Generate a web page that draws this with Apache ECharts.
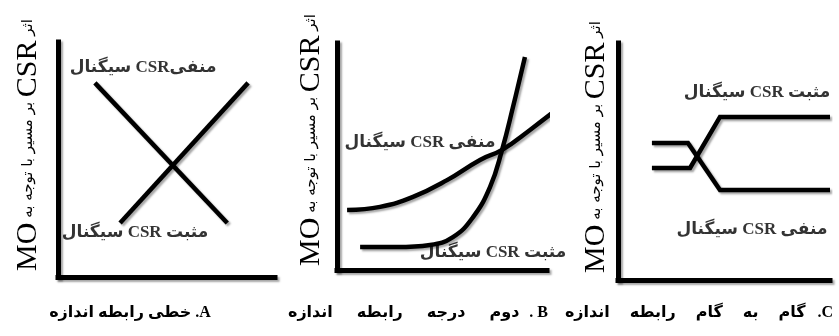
<!DOCTYPE html>
<html>
<head>
<meta charset="utf-8">
<script src="https://cdn.jsdelivr.net/npm/echarts@6/dist/echarts.min.js"></script>
<style>
html,body{margin:0;padding:0;background:#fff;}
#chart{width:839px;height:336px;}
</style>
</head>
<body>
<div id="chart"></div>
<script>
// ---- Data (axis units 0..100 in each panel) ----
const lineA_negative = [[17.0, 82.6], [78.0, 23.0]];
const lineA_positive = [[28.6, 23.0], [87.6, 82.6]];

const curveB_negative = [[4.8, 26.4], [20.5, 27.8], [36.2, 32.2], [52.4, 39.6], [68.1, 48.5], [78.6, 52.9], [91.9, 61.7], [108.6, 73.6]];
const curveB_positive = [[11.0, 10.1], [28.6, 10.1], [44.3, 11.0], [55.2, 14.5], [64.8, 23.3], [72.9, 36.6], [78.6, 52.9], [83.8, 71.8], [89.5, 93.8]];

const stepC_toNegative = [[16.0, 57.8], [33.0, 57.8], [48.1, 38.0], [100, 38.0]];
const stepC_toPositive = [[16.0, 47.3], [34.0, 47.3], [48.1, 68.8], [100, 68.8]];

// ---- Texts (words listed in visual left-to-right order) ----
const labelNegA = ['سیگنال', ' ', 'CSR', 'منفی'];
const labelNeg = ['سیگنال', ' ', 'CSR', ' ', 'منفی'];
const labelPos = ['سیگنال', ' ', 'CSR', ' ', 'مثبت'];
const titleA = ['اندازه', ' ', 'رابطه', ' ', 'خطی', ' ', '.', 'A'];
const titleB = ['اندازه', ' ', 'رابطه', ' ', 'درجه', ' ', 'دوم', '.', ' ', 'B'];
const titleC = ['اندازه', ' ', 'رابطه', ' ', 'گام', ' ', 'به', ' ', 'گام', ' ', '.', 'C'];
const yLabelParts = ['MO', 'بر مسیر با توجه به', 'CSR', 'اثر'];

// label anchors (axis units) per panel
const labelsA = [{name: 'neg', words: labelNegA, value: [39.2, 88.9]}, {name: 'pos', words: labelPos, value: [35.5, 18.7]}];
const labelsB = [{name: 'neg', words: labelNeg, value: [39.5, 55.9]}, {name: 'pos', words: labelPos, value: [74.3, 7.5]}];
const labelsC = [{name: 'pos', words: labelPos, value: [65.6, 78.9]}, {name: 'neg', words: labelNeg, value: [63.2, 21.1]}];

// build rich-text string: every word its own token so order is fixed left-to-right
function tokens(words, style) {
  return words.map(w => w === ' ' ? '{' + style + 'sp| }' : '{' + style + '|' + w + '}').join('');
}

// ---- Layout ----
const grids = [
  {left: 58, top: 42, width: 217, height: 235},
  {left: 337, top: 43, width: 210, height: 227},
  {left: 618, top: 43, width: 212, height: 237}
];

const shadow = {shadowColor: 'rgba(0,0,0,0.35)', shadowBlur: 2, shadowOffsetX: 2, shadowOffsetY: 2};
const axisLineStyle = Object.assign({color: '#000', width: 5, cap: 'square'}, shadow);

function mkAxis(i) {
  return {
    gridIndex: i, type: 'value', min: 0, max: 100,
    axisLine: {show: true, onZero: false, lineStyle: axisLineStyle},
    axisTick: {show: false}, axisLabel: {show: false}, splitLine: {show: false}
  };
}

function lineSeries(i, data, smooth) {
  return {
    type: 'line', xAxisIndex: i, yAxisIndex: i, data: data,
    symbol: 'none', smooth: smooth ? 0.45 : false, clip: false, silent: true,
    lineStyle: Object.assign({color: '#000', width: 4.5, cap: 'butt', join: 'miter'}, shadow)
  };
}

const boldFont = '"Liberation Serif", "DejaVu Sans", serif';
function labelSeries(i, data) {
  return {
    type: 'scatter', xAxisIndex: i, yAxisIndex: i,
    data: data.map(d => ({name: d.name, value: d.value, words: d.words})),
    symbolSize: 1, itemStyle: {color: 'rgba(0,0,0,0)'}, clip: false, silent: true,
    label: {
      show: true, position: 'inside',
      formatter: p => tokens(p.data.words, 'w'),
      color: '#000', fontWeight: 'bold', fontSize: 17, fontFamily: boldFont,
      rich: {
        w: {color: '#000', fontWeight: 'bold', fontSize: 17, fontFamily: boldFont},
        wsp: {color: '#000', fontWeight: 'bold', fontSize: 17, fontFamily: boldFont}
      }
    }
  };
}

const titles = [titleA, titleB, titleC];
const titleCenters = [130, 413, 695];
const titleWordPad = [0, 10, 8];
const yLabelPos = [[28, 145], [311, 140], [596, 147]];

const graphics = [];
titles.forEach((t, i) => {
  const pad = titleWordPad[i];
  const text = t.map(w => {
    if (w === ' ') return '{tsp| }';
    if (/^[\u0600-\u06FF]/.test(w)) return '{tw|' + w + '}';
    return '{t|' + w + '}';
  }).join('');
  const base = {fontFamily: boldFont, fontWeight: 'bold', fontSize: 16, fill: '#000'};
  graphics.push({
    type: 'text', x: titleCenters[i], y: 313, silent: true,
    style: {
      text: text, align: 'center', verticalAlign: 'middle', fill: '#000',
      font: 'bold 16px ' + boldFont,
      rich: {
        t: Object.assign({}, base),
        tsp: Object.assign({}, base),
        tw: Object.assign({padding: [0, pad, 0, pad]}, base)
      }
    }
  });
});
yLabelPos.forEach(p => {
  graphics.push({
    type: 'text', x: p[0], y: p[1], rotation: Math.PI / 2, silent: true,
    style: {
      text: '{b|' + yLabelParts[0] + '}{s| ' + yLabelParts[1] + ' }{b|' + yLabelParts[2] + '}{s| ' + yLabelParts[3] + '}',
      align: 'center', verticalAlign: 'middle', fill: '#000',
      rich: {
        b: {fontFamily: '"Liberation Serif", serif', fontSize: 30, fill: '#000'},
        s: {fontFamily: '"DejaVu Sans", sans-serif', fontSize: 15, fill: '#000'}
      }
    }
  });
});

const chart = echarts.init(document.getElementById('chart'), null, {renderer: 'canvas'});
chart.setOption({
  animation: false,
  backgroundColor: '#fff',
  grid: grids,
  xAxis: [mkAxis(0), mkAxis(1), mkAxis(2)],
  yAxis: [mkAxis(0), mkAxis(1), mkAxis(2)],
  series: [
    lineSeries(0, lineA_negative, false),
    lineSeries(0, lineA_positive, false),
    lineSeries(1, curveB_negative, true),
    lineSeries(1, curveB_positive, true),
    lineSeries(2, stepC_toNegative, false),
    lineSeries(2, stepC_toPositive, false),
    labelSeries(0, labelsA),
    labelSeries(1, labelsB),
    labelSeries(2, labelsC)
  ],
  graphic: graphics
});
</script>
</body>
</html>
